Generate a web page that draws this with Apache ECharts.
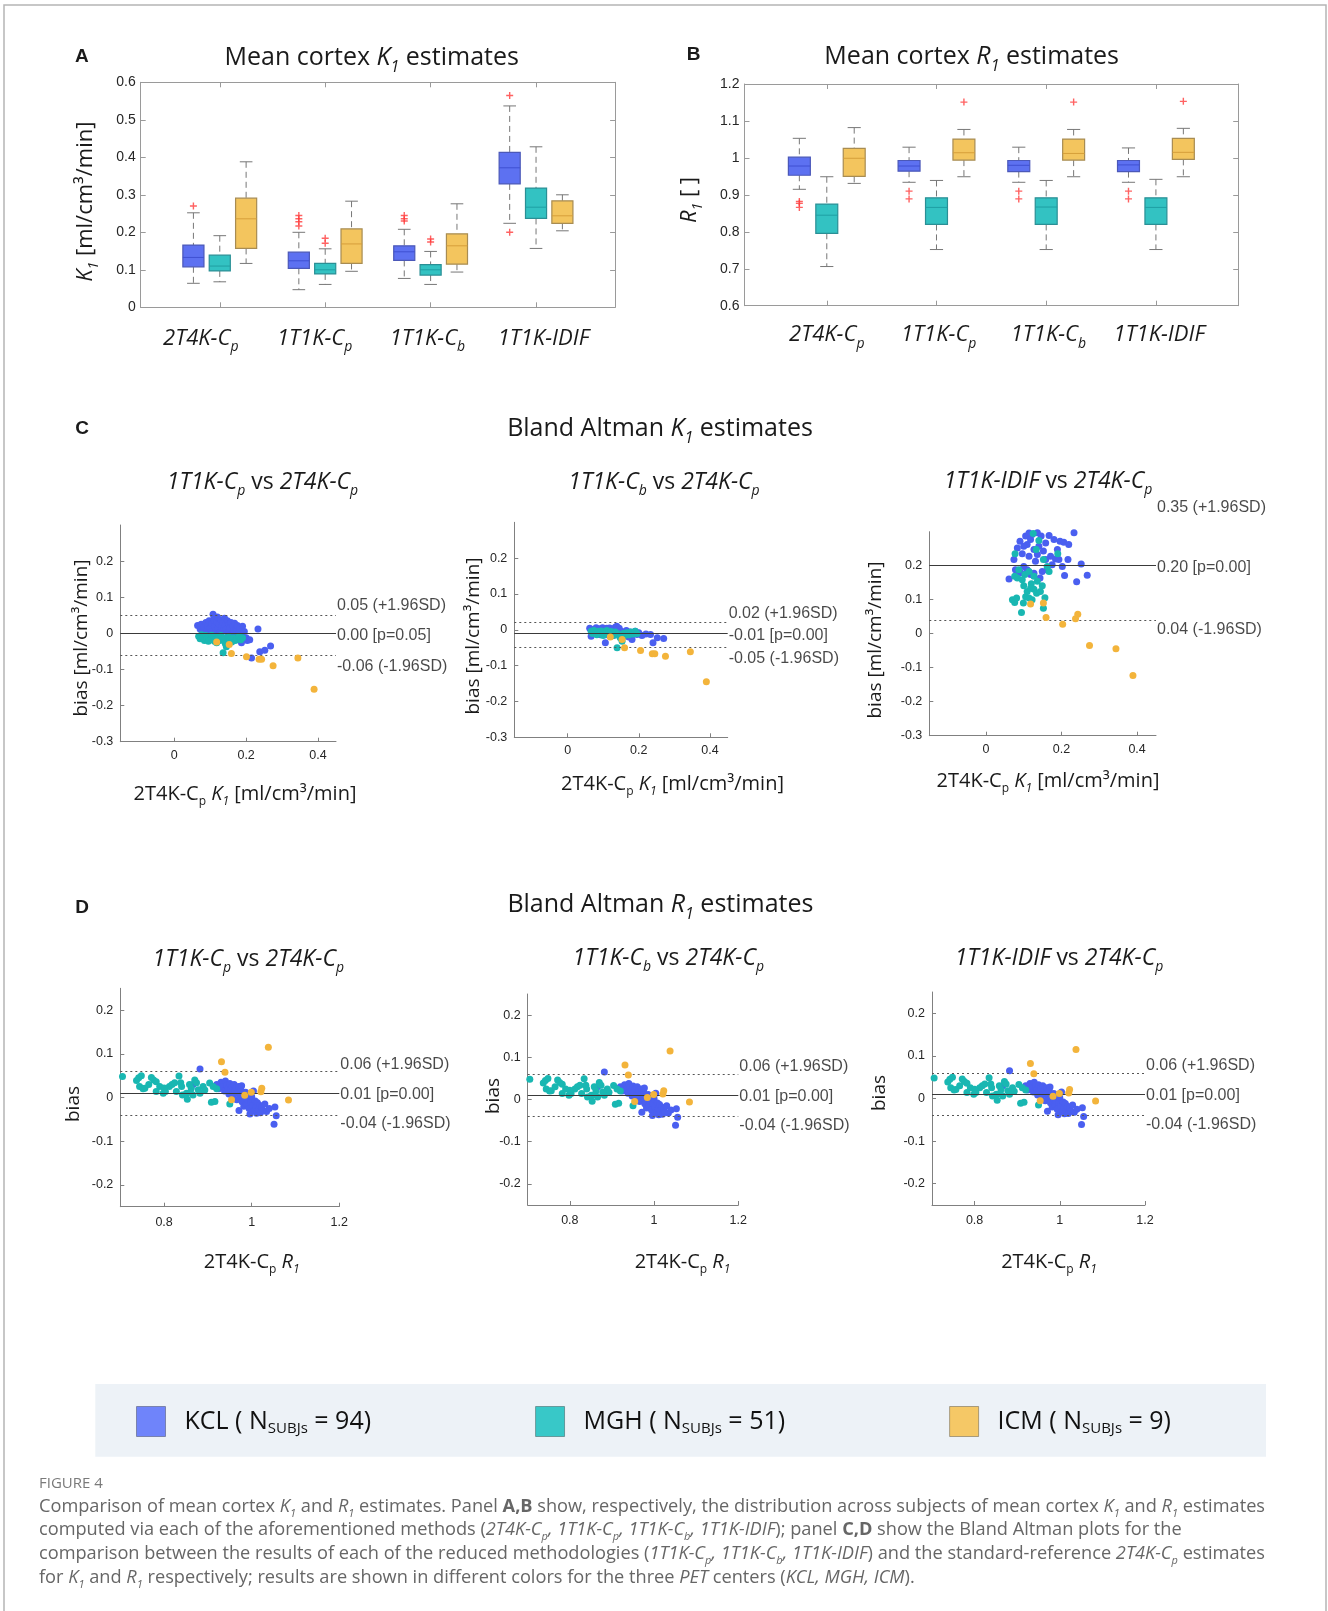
<!DOCTYPE html>
<html>
<head>
<meta charset="utf-8">
<title>Figure 4 - K1 / R1 estimates</title>
<script src="https://cdn.jsdelivr.net/npm/echarts@6.0.0/dist/echarts.min.js"></script>
<style>
  html, body { margin: 0; padding: 0; background: #fff; }
  #main { width: 1328px; height: 1611px; }
</style>
</head>
<body>
<div id="main"></div>
<script>
// ---------------- data ----------------
var methodTicks = [1, 2, 3, 4];
var methodLabels = ['{i|2T4K-C}{isub|p}', '{i|1T1K-C}{isub|p}', '{i|1T1K-C}{isub|b}', '{i|1T1K-IDIF}'];
var labelPosA = [0.82, 1.9, 2.97, 4.07];
var labelPosB = [1.0, 2.02, 3.02, 4.03];

var centers = ['KCL', 'MGH', 'ICM'];
var nSubjects = [94, 51, 9];

// box stats per method: [min, q1, median, q3, max]
var k1Box_KCL = [[0.064, 0.108, 0.133, 0.166, 0.252], [0.047, 0.104, 0.124, 0.147, 0.200], [0.077, 0.125, 0.148, 0.164, 0.208], [0.224, 0.329, 0.372, 0.413, 0.537]];
var k1Box_MGH = [[0.068, 0.097, 0.110, 0.139, 0.191], [0.061, 0.089, 0.100, 0.117, 0.156], [0.061, 0.086, 0.100, 0.114, 0.149], [0.157, 0.237, 0.267, 0.318, 0.428]];
var k1Box_ICM = [[0.117, 0.157, 0.236, 0.291, 0.388], [0.096, 0.117, 0.169, 0.209, 0.283], [0.094, 0.115, 0.164, 0.196, 0.276], [0.204, 0.224, 0.244, 0.284, 0.300]];
// outliers: [method, value]
var k1Out_KCL = [[1, 0.270], [2, 0.245], [2, 0.236], [2, 0.228], [2, 0.217], [3, 0.245], [3, 0.236], [3, 0.230], [4, 0.565], [4, 0.200]];
var k1Out_MGH = [[2, 0.184], [2, 0.171], [3, 0.182], [3, 0.174]];
var k1Out_ICM = [];

var r1Box_KCL = [[0.915, 0.953, 0.978, 1.002, 1.053], [0.934, 0.964, 0.978, 0.993, 1.029], [0.934, 0.963, 0.980, 0.993, 1.029], [0.934, 0.963, 0.981, 0.993, 1.027]];
var r1Box_MGH = [[0.706, 0.796, 0.845, 0.875, 0.949], [0.752, 0.820, 0.866, 0.892, 0.939], [0.752, 0.820, 0.867, 0.892, 0.939], [0.752, 0.820, 0.866, 0.892, 0.942]];
var r1Box_ICM = [[0.931, 0.950, 0.999, 1.026, 1.082], [0.949, 0.994, 1.014, 1.051, 1.077], [0.949, 0.994, 1.012, 1.051, 1.077], [0.949, 0.996, 1.015, 1.053, 1.080]];
var r1Out_KCL = [[1, 0.882], [1, 0.877], [1, 0.866], [2, 0.910], [2, 0.889], [3, 0.910], [3, 0.889], [4, 0.910], [4, 0.889]];
var r1Out_MGH = [];
var r1Out_ICM = [[2, 1.151], [3, 1.151], [4, 1.153]];

// Bland Altman K1: [2T4K-Cp K1, bias]
var baK1a_KCL = [[0.065, 0.022], [0.072, 0.012], [0.075, 0.025], [0.08, 0.005], [0.083, 0.018], [0.088, 0.03], [0.09, 0.01], [0.093, 0.022], [0.097, 0.035], [0.1, 0.015], [0.102, 0.004], [0.105, 0.028], [0.108, 0.053], [0.11, 0.04], [0.112, 0.02], [0.115, 0.008], [0.118, 0.032], [0.12, 0.045], [0.122, 0.015], [0.125, 0.025], [0.127, 0.002], [0.13, 0.038], [0.132, 0.018], [0.135, 0.03], [0.137, 0.008], [0.14, 0.042], [0.142, 0.022], [0.145, 0.012], [0.148, 0.035], [0.15, 0.002], [0.153, 0.025], [0.155, 0.015], [0.158, 0.03], [0.16, -0.005], [0.163, 0.02], [0.165, 0.008], [0.168, 0.028], [0.17, -0.01], [0.173, 0.012], [0.176, 0.022], [0.18, 0.002], [0.183, 0.015], [0.186, -0.008], [0.19, 0.02], [0.195, 0.005], [0.2, -0.012], [0.203, -0.02], [0.21, -0.018], [0.215, -0.068], [0.233, 0.012], [0.238, -0.051], [0.252, -0.047], [0.268, -0.035], [0.187, -0.026], [0.178, -0.015]];
var baK1a_MGH = [[0.068, -0.008], [0.072, -0.015], [0.076, -0.004], [0.08, -0.012], [0.084, -0.02], [0.088, -0.006], [0.092, -0.014], [0.096, -0.01], [0.1, -0.018], [0.104, -0.005], [0.108, -0.012], [0.112, -0.022], [0.115, -0.008], [0.119, -0.015], [0.123, -0.01], [0.127, -0.02], [0.13, -0.006], [0.134, -0.014], [0.136, -0.054], [0.14, -0.012], [0.145, -0.037], [0.148, -0.02], [0.152, -0.01], [0.156, -0.016], [0.16, -0.024], [0.165, -0.012], [0.17, -0.02], [0.175, -0.015], [0.18, -0.008], [0.185, -0.018], [0.19, -0.012], [0.095, -0.022], [0.118, -0.026], [0.142, -0.028]];
var baK1a_ICM = [[0.118, -0.024], [0.153, -0.031], [0.159, -0.056], [0.201, -0.065], [0.236, -0.072], [0.243, -0.072], [0.275, -0.090], [0.344, -0.068], [0.389, -0.155]];

var baK1b_KCL = [[0.062, 0.004], [0.066, -0.018], [0.07, 0.0], [0.075, -0.008], [0.08, 0.006], [0.085, -0.004], [0.09, 0.003], [0.095, -0.01], [0.1, 0.002], [0.104, -0.006], [0.106, -0.036], [0.11, 0.004], [0.115, -0.004], [0.12, -0.012], [0.125, 0.002], [0.13, -0.006], [0.134, 0.007], [0.138, 0.01], [0.142, -0.002], [0.146, -0.01], [0.15, -0.004], [0.155, -0.014], [0.16, -0.006], [0.165, -0.002], [0.17, -0.012], [0.175, -0.006], [0.181, -0.027], [0.185, -0.01], [0.19, -0.004], [0.195, -0.013], [0.2, -0.008], [0.209, -0.016], [0.22, -0.012], [0.233, -0.013], [0.24, -0.036], [0.252, -0.022], [0.27, -0.024], [0.112, -0.014], [0.128, -0.016], [0.158, -0.018], [0.172, -0.02], [0.092, -0.014], [0.098, 0.006], [0.118, 0.005], [0.145, 0.004]];
var baK1b_MGH = [[0.066, -0.004], [0.07, -0.01], [0.074, -0.002], [0.078, -0.008], [0.082, -0.014], [0.086, -0.004], [0.09, -0.009], [0.094, -0.003], [0.098, -0.012], [0.102, -0.006], [0.106, -0.01], [0.11, -0.002], [0.114, -0.008], [0.118, -0.012], [0.122, -0.005], [0.126, -0.01], [0.13, -0.015], [0.134, -0.006], [0.139, -0.05], [0.142, -0.012], [0.146, -0.018], [0.153, -0.032], [0.156, -0.01], [0.16, -0.016], [0.166, -0.008], [0.172, -0.014], [0.178, -0.006], [0.184, -0.012], [0.19, -0.004], [0.195, -0.01], [0.1, -0.016], [0.12, -0.018], [0.148, -0.022]];
var baK1b_ICM = [[0.120, -0.020], [0.153, -0.027], [0.160, -0.050], [0.205, -0.058], [0.238, -0.067], [0.245, -0.067], [0.275, -0.074], [0.345, -0.061], [0.390, -0.145]];

var baK1c_KCL = [[0.061, 0.161], [0.074, 0.218], [0.083, 0.252], [0.09, 0.272], [0.096, 0.235], [0.1, 0.198], [0.105, 0.287], [0.109, 0.262], [0.114, 0.228], [0.118, 0.174], [0.122, 0.292], [0.127, 0.248], [0.131, 0.213], [0.136, 0.297], [0.14, 0.257], [0.143, 0.164], [0.146, 0.287], [0.152, 0.243], [0.158, 0.267], [0.162, 0.188], [0.167, 0.289], [0.171, 0.228], [0.175, 0.203], [0.184, 0.22], [0.189, 0.248], [0.196, 0.272], [0.202, 0.198], [0.206, 0.269], [0.208, 0.171], [0.217, 0.218], [0.219, 0.262], [0.233, 0.297], [0.24, 0.153], [0.252, 0.205], [0.268, 0.172], [0.109, 0.188], [0.092, 0.179], [0.127, 0.178], [0.149, 0.183], [0.118, 0.277], [0.1, 0.257], [0.136, 0.233], [0.158, 0.218], [0.078, 0.188], [0.18, 0.277], [0.193, 0.218], [0.114, 0.296], [0.083, 0.174]];
var baK1c_MGH = [[0.07, 0.1], [0.076, 0.092], [0.081, 0.105], [0.094, 0.062], [0.099, 0.09], [0.105, 0.109], [0.114, 0.105], [0.1, 0.141], [0.109, 0.124], [0.118, 0.134], [0.127, 0.131], [0.134, 0.119], [0.144, 0.124], [0.152, 0.075], [0.156, 0.106], [0.122, 0.1], [0.077, 0.235], [0.076, 0.169], [0.083, 0.164], [0.103, 0.174], [0.114, 0.183], [0.125, 0.295], [0.14, 0.274], [0.133, 0.248], [0.152, 0.218], [0.167, 0.183], [0.19, 0.235], [0.127, 0.169], [0.136, 0.154], [0.12, 0.147], [0.096, 0.159], [0.087, 0.188], [0.149, 0.141], [0.162, 0.198]];
var baK1c_ICM = [[0.118, 0.087], [0.152, 0.090], [0.159, 0.048], [0.203, 0.028], [0.237, 0.044], [0.243, 0.057], [0.274, -0.035], [0.344, -0.044], [0.389, -0.123]];

// Bland Altman R1 (same for the three reduced methods): [2T4K-Cp R1, bias]
var baR1_KCL = [[0.882, 0.065], [0.866, 0.03], [0.92, 0.03], [0.925, 0.02], [0.93, 0.035], [0.935, 0.025], [0.938, 0.015], [0.94, 0.038], [0.943, 0.028], [0.946, 0.02], [0.948, 0.008], [0.95, 0.032], [0.952, 0.018], [0.955, 0.025], [0.957, 0.005], [0.96, 0.03], [0.962, 0.015], [0.964, 0.022], [0.966, -0.005], [0.968, 0.01], [0.97, 0.025], [0.971, -0.03], [0.973, 0.002], [0.975, 0.018], [0.977, 0.027], [0.978, -0.01], [0.98, 0.008], [0.982, -0.02], [0.984, 0.0], [0.986, 0.012], [0.988, -0.015], [0.99, -0.005], [0.992, 0.005], [0.994, -0.025], [0.996, -0.038], [0.998, -0.01], [1.0, 0.002], [1.002, -0.018], [1.004, 0.015], [1.006, -0.03], [1.008, -0.008], [1.01, -0.022], [1.011, -0.036], [1.013, -0.012], [1.015, -0.028], [1.018, -0.018], [1.02, -0.035], [1.023, -0.022], [1.026, -0.03], [1.03, -0.015], [1.034, -0.032], [1.04, -0.025], [1.051, -0.061], [1.053, -0.022], [1.056, -0.042]];
var baR1_MGH = [[0.705, 0.048], [0.737, 0.039], [0.742, 0.045], [0.748, 0.05], [0.744, 0.025], [0.752, 0.02], [0.756, 0.021], [0.771, 0.046], [0.776, 0.04], [0.782, 0.036], [0.79, 0.025], [0.782, 0.014], [0.798, 0.01], [0.803, 0.014], [0.812, 0.025], [0.818, 0.03], [0.824, 0.034], [0.834, 0.049], [0.838, 0.034], [0.84, 0.025], [0.828, 0.014], [0.842, 0.006], [0.851, 0.01], [0.853, -0.004], [0.858, 0.03], [0.862, 0.021], [0.866, 0.006], [0.87, 0.04], [0.874, 0.034], [0.882, 0.01], [0.889, 0.025], [0.893, 0.017], [0.904, 0.033], [0.908, -0.011], [0.912, 0.025], [0.916, -0.009], [0.95, -0.015], [0.92, 0.02], [0.86, 0.012], [0.878, 0.018], [0.8, 0.022], [0.765, 0.03]];
var baR1_ICM = [[0.931, 0.082], [0.939, 0.058], [0.954, -0.005], [0.984, 0.005], [0.999, 0.012], [1.021, 0.013], [1.023, 0.021], [1.038, 0.115], [1.084, -0.006]];

// bias lines [+1.96SD, mean, -1.96SD] and their texts
var linesK1a = [0.052, -0.003, -0.061], textK1a = ['0.05 (+1.96SD)', '0.00 [p=0.05]', '-0.06 (-1.96SD)'];
var linesK1b = [0.021, -0.013, -0.047], textK1b = ['0.02 (+1.96SD)', '-0.01 [p=0.00]', '-0.05 (-1.96SD)'];
var linesK1c = [0.35, 0.198, 0.044], textK1c = ['0.35 (+1.96SD)', '0.20 [p=0.00]', '0.04 (-1.96SD)'];
var linesR1 = [0.0555, 0.01, -0.0355], textR1 = ['0.06 (+1.96SD)', '0.01 [p=0.00]', '-0.04 (-1.96SD)'];

var k1Ticks = [-0.3, -0.2, -0.1, 0, 0.1, 0.2], k1XTicks = [0, 0.2, 0.4];
var r1Ticks = [-0.2, -0.1, 0, 0.1, 0.2], r1XTicks = [0.8, 1, 1.2];

// ---------------- style ----------------
var FONT = '"Open Sans", "Noto Sans", sans-serif';
var NUMFONT = '"Liberation Sans", Arial, sans-serif';
var INK = '#1a1a1a';
var FRAME = '#9a9a9a';
var AXIS = '#808080';
var boxFill = ['#5d71f1', '#33c2c2', '#f3c55e'];
var boxEdge = ['#4b58b8', '#2a8f95', '#a88c52'];
var boxMed = ['#3f50d2', '#1f9fa3', '#d69f3a'];
var dotColor = ['#4a5ff0', '#19b7b2', '#f3b43b'];
var legendColor = ['#6f84fa', '#38c8c8', '#f5c866'];
var boxOffset = [-0.25, 0, 0.25];
var BOX_HALF = 0.1, CAP_HALF = 0.06;

// grid rectangles: [left, top, width, height]
var grids = [
  [140.7, 82.3, 474.4, 225],
  [744.5, 84, 493.7, 221.7],
  [120.3, 525, 215.7, 216.7],
  [514.3, 522.3, 213.4, 215],
  [929.3, 531.7, 226.7, 204],
  [120.3, 988.3, 219, 218.4],
  [527.7, 994, 210.6, 211],
  [932, 992, 213, 213]
];

function richSet(size, color) {
  var lh = Math.round(size * 1.4), s = Math.round(size * 0.62);
  function tok(extra) {
    var t = { fontFamily: FONT, fontSize: size, lineHeight: lh, color: color, fill: color };
    for (var k in extra) t[k] = extra[k];
    return t;
  }
  return {
    i: tok({ fontStyle: 'italic' }),
    b: tok({ fontWeight: 'bold' }),
    isub: tok({ fontStyle: 'italic', fontSize: s, lineHeight: s, verticalAlign: 'bottom' }),
    sub: tok({ fontSize: s, lineHeight: s, verticalAlign: 'bottom' })
  };
}

function gText(x, y, text, size, o) {
  o = o || {};
  var color = o.color || INK;
  return {
    type: 'text', x: x, y: y, rotation: o.rot || 0, silent: true, z: 10,
    style: {
      text: text, fill: color, fontFamily: o.family || FONT, fontSize: size,
      fontWeight: o.weight || 'normal', lineHeight: Math.round(size * 1.4),
      align: o.align || 'center', verticalAlign: o.valign || 'middle',
      rich: richSet(size, color)
    }
  };
}

function nearest(arr, v) {
  var best = 0;
  for (var i = 1; i < arr.length; i++) if (Math.abs(arr[i] - v) < Math.abs(arr[best] - v)) best = i;
  return best;
}

var xAxes = [], yAxes = [], series = [];

// panel A / B axes (boxed, ticks inside)
function boxAxes(gi, yMin, yMax, labelPos, margin) {
  var line = { show: true, onZero: false, lineStyle: { color: FRAME, width: 1 } };
  var tick = { show: true, inside: true, length: 5, customValues: methodTicks, lineStyle: { color: FRAME } };
  xAxes.push({
    gridIndex: gi, type: 'value', min: 0.25, max: 4.75, position: 'bottom',
    axisLine: line, axisTick: tick, splitLine: { show: false },
    axisLabel: {
      customValues: labelPos, margin: margin, color: INK, fontFamily: FONT, fontSize: 22,
      fontStyle: 'italic', lineHeight: 31, rich: richSet(22, INK),
      formatter: function (v) { return methodLabels[nearest(labelPos, v)]; }
    }
  });
  xAxes.push({
    gridIndex: gi, type: 'value', min: 0.25, max: 4.75, position: 'top',
    axisLine: line, axisTick: tick, splitLine: { show: false }, axisLabel: { show: false }
  });
  var yt = { show: true, inside: true, length: 5, lineStyle: { color: FRAME } };
  yAxes.push({
    gridIndex: gi, type: 'value', min: yMin, max: yMax, interval: 0.1, position: 'left',
    axisLine: line, axisTick: yt, splitLine: { show: false },
    axisLabel: { color: '#262626', fontFamily: NUMFONT, fontSize: 14, margin: 5 }
  });
  yAxes.push({
    gridIndex: gi, type: 'value', min: yMin, max: yMax, interval: 0.1, position: 'right',
    axisLine: line, axisTick: yt, splitLine: { show: false }, axisLabel: { show: false }
  });
}
boxAxes(0, 0, 0.6, labelPosA, 16);
boxAxes(1, 0.6, 1.2, labelPosB, 14);

function boxRender(ci) {
  return function (params, api) {
    var c = api.value(0) + boxOffset[ci];
    var lo = api.value(1), q1 = api.value(2), md = api.value(3), q3 = api.value(4), hi = api.value(5);
    var tl = api.coord([c - BOX_HALF, q3]), br = api.coord([c + BOX_HALF, q1]);
    var mL = api.coord([c - BOX_HALF, md]), mR = api.coord([c + BOX_HALF, md]);
    var top = api.coord([c, hi]), bot = api.coord([c, lo]);
    var cl = api.coord([c - CAP_HALF, hi])[0], cr = api.coord([c + CAP_HALF, hi])[0];
    var dash = { stroke: '#777', lineWidth: 1, lineDash: [6, 4] };
    var cap = { stroke: '#777', lineWidth: 1 };
    return {
      type: 'group', children: [
        { type: 'line', shape: { x1: top[0], y1: top[1], x2: top[0], y2: tl[1] }, style: dash },
        { type: 'line', shape: { x1: bot[0], y1: br[1], x2: bot[0], y2: bot[1] }, style: dash },
        { type: 'line', shape: { x1: cl, y1: top[1], x2: cr, y2: top[1] }, style: cap },
        { type: 'line', shape: { x1: cl, y1: bot[1], x2: cr, y2: bot[1] }, style: cap },
        { type: 'rect', shape: { x: tl[0], y: tl[1], width: br[0] - tl[0], height: br[1] - tl[1] },
          style: { fill: boxFill[ci], stroke: boxEdge[ci], lineWidth: 1.2 } },
        { type: 'line', shape: { x1: mL[0], y1: mL[1], x2: mR[0], y2: mR[1] }, style: { stroke: boxMed[ci], lineWidth: 1 } }
      ]
    };
  };
}

var plusSymbol = 'path://M4,0H6V4H10V6H6V10H4V6H0V4H4Z';

function boxPanel(axisIdx, boxes, outs) {
  boxes.forEach(function (stats, ci) {
    series.push({
      type: 'custom', name: centers[ci], xAxisIndex: axisIdx, yAxisIndex: axisIdx,
      renderItem: boxRender(ci), encode: { x: 0, y: [1, 2, 3, 4, 5] }, clip: false,
      data: stats.map(function (s, m) { return [methodTicks[m]].concat(s); })
    });
    series.push({
      type: 'scatter', name: 'outliers', xAxisIndex: axisIdx, yAxisIndex: axisIdx,
      symbol: plusSymbol, symbolSize: 7, itemStyle: { color: '#ff3b3b' }, z: 5, silent: true,
      data: outs[ci].map(function (o) { return [o[0] + boxOffset[ci], o[1]]; })
    });
  });
}
boxPanel(0, [k1Box_KCL, k1Box_MGH, k1Box_ICM], [k1Out_KCL, k1Out_MGH, k1Out_ICM]);
boxPanel(2, [r1Box_KCL, r1Box_MGH, r1Box_ICM], [r1Out_KCL, r1Out_MGH, r1Out_ICM]);

// Bland Altman panels
var baPlots = [
  { sets: [baK1a_KCL, baK1a_MGH, baK1a_ICM], lines: linesK1a, texts: textK1a, offs: [-9, 1.5, 11.5], x: [-0.15, 0.45, k1XTicks], y: [-0.3, 0.3, k1Ticks], xm: 7 },
  { sets: [baK1b_KCL, baK1b_MGH, baK1b_ICM], lines: linesK1b, texts: textK1b, offs: [-9, 1.5, 12], x: [-0.15, 0.45, k1XTicks], y: [-0.3, 0.3, k1Ticks], xm: 7 },
  { sets: [baK1c_KCL, baK1c_MGH, baK1c_ICM], lines: linesK1c, texts: textK1c, offs: [-7, 1, 10.5], x: [-0.15, 0.45, k1XTicks], y: [-0.3, 0.3, k1Ticks], xm: 7 },
  { sets: [baR1_KCL, baR1_MGH, baR1_ICM], lines: linesR1, texts: textR1, offs: [-9, 1, 11], x: [0.7, 1.2, r1XTicks], y: [-0.25, 0.25, r1Ticks], xm: 9 },
  { sets: [baR1_KCL, baR1_MGH, baR1_ICM], lines: linesR1, texts: textR1, offs: [-9, 1, 11], x: [0.7, 1.2, r1XTicks], y: [-0.25, 0.25, r1Ticks], xm: 9 },
  { sets: [baR1_KCL, baR1_MGH, baR1_ICM], lines: linesR1, texts: textR1, offs: [-9, 1, 11], x: [0.7, 1.2, r1XTicks], y: [-0.25, 0.25, r1Ticks], xm: 9 }
];

baPlots.forEach(function (p, k) {
  var gi = k + 2, ai = k + 4;
  var line = { show: true, onZero: false, lineStyle: { color: AXIS, width: 1 } };
  xAxes.push({
    gridIndex: gi, type: 'value', min: p.x[0], max: p.x[1], position: 'bottom',
    axisLine: line, splitLine: { show: false },
    axisTick: { show: true, inside: true, length: 4, customValues: p.x[2], lineStyle: { color: AXIS } },
    axisLabel: { customValues: p.x[2], margin: p.xm, color: '#262626', fontFamily: NUMFONT, fontSize: 12.5 }
  });
  yAxes.push({
    gridIndex: gi, type: 'value', min: p.y[0], max: p.y[1], position: 'left',
    axisLine: line, splitLine: { show: false },
    axisTick: { show: true, inside: true, length: 4, customValues: p.y[2], lineStyle: { color: AXIS } },
    axisLabel: { customValues: p.y[2], margin: 7, color: '#262626', fontFamily: NUMFONT, fontSize: 12.5 }
  });
  p.sets.forEach(function (pts, ci) {
    series.push({
      type: 'scatter', name: centers[ci], xAxisIndex: ai, yAxisIndex: ai,
      symbolSize: 7, itemStyle: { color: dotColor[ci], opacity: 1 }, z: 3 + ci,
      data: pts
    });
  });
  var marks = p.lines.map(function (v, j) {
    return {
      yAxis: v,
      lineStyle: j === 1 ? { color: '#3a3a3a', width: 1, type: 'solid' } : { color: '#555', width: 1, type: [2, 3] }
    };
  }).filter(function (m) { return m.yAxis <= p.y[1] && m.yAxis >= p.y[0]; });
  series.push({
    type: 'scatter', name: 'limits', xAxisIndex: ai, yAxisIndex: ai, symbolSize: 0, clip: false, silent: true, z: 2,
    data: p.lines.map(function (v, j) { return { value: [p.x[1], v], label: { offset: [0, p.offs[j]] } }; }),
    label: {
      show: true, position: 'right', distance: 1, color: INK, fontFamily: NUMFONT, fontSize: 16,
      formatter: function (q) { return p.texts[q.dataIndex]; }
    },
    markLine: { silent: true, symbol: 'none', animation: false, label: { show: false }, data: marks }
  });
});

// ---------------- texts ----------------
var texts = [
  gText(81.8, 57, 'A', 19, { weight: 'bold', family: NUMFONT }),
  gText(693.6, 55, 'B', 19, { weight: 'bold', family: NUMFONT }),
  gText(82, 429, 'C', 19, { weight: 'bold', family: NUMFONT }),
  gText(82, 908, 'D', 19, { weight: 'bold', family: NUMFONT }),
  gText(371.7, 58, 'Mean cortex {i|K}{isub|1} estimates', 25),
  gText(971.7, 57, 'Mean cortex {i|R}{isub|1} estimates', 25),
  gText(660, 429, 'Bland Altman {i|K}{isub|1} estimates', 25),
  gText(660.4, 905, 'Bland Altman {i|R}{isub|1} estimates', 25),
  gText(85.4, 201.7, '{i|K}{isub|1} [ml/cm³/min]', 22, { rot: Math.PI / 2 }),
  gText(690, 200, '{i|R}{isub|1} [ ]', 22, { rot: Math.PI / 2 }),
  gText(262.5, 482, '{i|1T1K-C}{isub|p} vs {i|2T4K-C}{isub|p}', 23),
  gText(664, 482, '{i|1T1K-C}{isub|b} vs {i|2T4K-C}{isub|p}', 23),
  gText(1048, 481, '{i|1T1K-IDIF} vs {i|2T4K-C}{isub|p}', 23),
  gText(248.3, 959, '{i|1T1K-C}{isub|p} vs {i|2T4K-C}{isub|p}', 23),
  gText(668.3, 958, '{i|1T1K-C}{isub|b} vs {i|2T4K-C}{isub|p}', 23),
  gText(1059, 958, '{i|1T1K-IDIF} vs {i|2T4K-C}{isub|p}', 23),
  gText(81.5, 638, 'bias [ml/cm³/min]', 19, { rot: Math.PI / 2 }),
  gText(474, 636, 'bias [ml/cm³/min]', 19, { rot: Math.PI / 2 }),
  gText(876, 640, 'bias [ml/cm³/min]', 19, { rot: Math.PI / 2 }),
  gText(74, 1104, 'bias', 19, { rot: Math.PI / 2 }),
  gText(493.3, 1096, 'bias', 19, { rot: Math.PI / 2 }),
  gText(880, 1093, 'bias', 19, { rot: Math.PI / 2 }),
  gText(245, 794, '2T4K-C{sub|p} {i|K}{isub|1} [ml/cm³/min]', 20),
  gText(672.5, 784, '2T4K-C{sub|p} {i|K}{isub|1} [ml/cm³/min]', 20),
  gText(1048, 781, '2T4K-C{sub|p} {i|K}{isub|1} [ml/cm³/min]', 20),
  gText(251.7, 1262, '2T4K-C{sub|p} {i|R}{isub|1}', 20),
  gText(682.5, 1262, '2T4K-C{sub|p} {i|R}{isub|1}', 20),
  gText(1049, 1262, '2T4K-C{sub|p} {i|R}{isub|1}', 20)
];

var caption = [
  'Comparison of mean cortex {i|K}{isub|1} and {i|R}{isub|1} estimates. Panel {b|A,B} show, respectively, the distribution across subjects of mean cortex {i|K}{isub|1} and {i|R}{isub|1} estimates',
  'computed via each of the aforementioned methods ({i|2T4K-C}{isub|p}{i|, 1T1K-C}{isub|p}{i|, 1T1K-C}{isub|b}{i|, 1T1K-IDIF}); panel {b|C,D} show the Bland Altman plots for the',
  'comparison between the results of each of the reduced methodologies ({i|1T1K-C}{isub|p}{i|, 1T1K-C}{isub|b}{i|, 1T1K-IDIF}) and the standard-reference {i|2T4K-C}{isub|p} estimates',
  'for {i|K}{isub|1} and {i|R}{isub|1} respectively; results are shown in different colors for the three {i|PET} centers ({i|KCL, MGH, ICM}).'
];
var capY = [1506.6, 1530.3, 1554, 1577.5];
caption.forEach(function (t, i) {
  texts.push(gText(39, capY[i], t, 18.2, { align: 'left', color: '#666' }));
});
var fig = gText(39, 1484, 'FIGURE 4', 15, { align: 'left', color: '#7a7a7a' });
fig.style.letterSpacing = 0.6;
texts.push(fig);

var decor = [
  { type: 'polyline', silent: true, z: 0, shape: { points: [[4, 1611], [4, 5], [1326, 5], [1326, 1611]] },
    style: { fill: 'none', stroke: '#b5b5b5', lineWidth: 1.5 } },
  { type: 'rect', silent: true, z: 0, shape: { x: 95.3, y: 1384, width: 1170.7, height: 72.7 },
    style: { fill: '#edf2f7' } }
];

var chart = echarts.init(document.getElementById('main'), null, { renderer: 'canvas' });
chart.setOption({
  backgroundColor: '#ffffff',
  animation: false,
  grid: grids.map(function (g) {
    return { left: g[0], top: g[1], width: g[2], height: g[3], containLabel: false };
  }),
  xAxis: xAxes,
  yAxis: yAxes,
  legend: {
    left: 136, top: 1406, orient: 'horizontal', selectedMode: false, padding: 0,
    itemWidth: 29, itemHeight: 30, itemGap: 164, icon: 'rect',
    data: centers.map(function (c, i) {
      return { name: c, itemStyle: { color: legendColor[i], borderColor: 'rgba(0,0,0,0.3)', borderWidth: 1 } };
    }),
    formatter: function (name) {
      return name + ' ( N{sub|SUBJs} = ' + nSubjects[centers.indexOf(name)] + ')';
    },
    textStyle: {
      fontFamily: FONT, fontSize: 25, color: '#111', lineHeight: 30, padding: [0, 0, 0, 14],
      rich: { sub: { fontFamily: FONT, fontSize: 15, lineHeight: 15, verticalAlign: 'bottom', color: '#111' } }
    }
  },
  graphic: { elements: decor.concat(texts) },
  series: series
});
</script>
</body>
</html>
